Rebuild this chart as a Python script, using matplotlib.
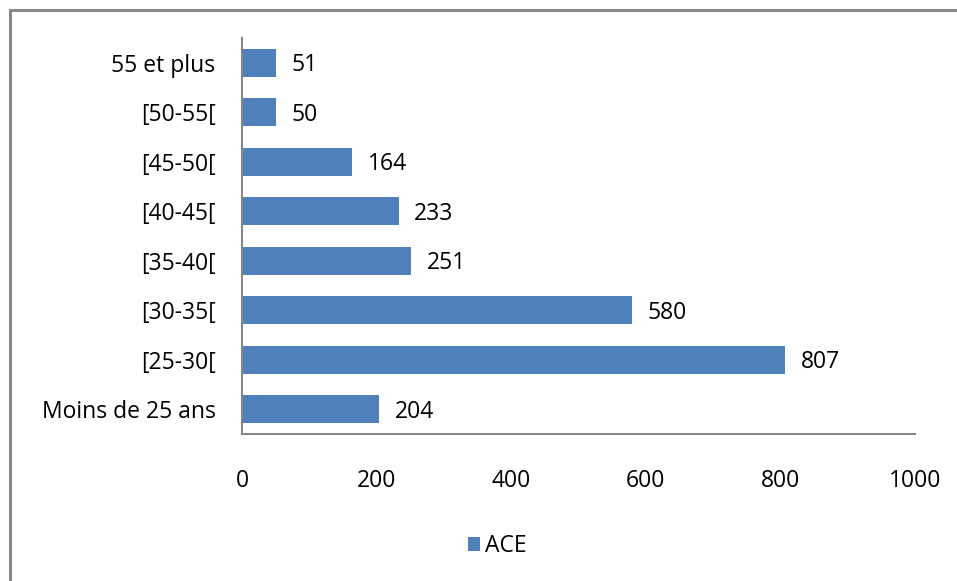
import matplotlib.pyplot as plt
from matplotlib.patches import Rectangle

categories = ["Moins de 25 ans", "[25-30[", "[30-35[", "[35-40[", "[40-45[",
              "[45-50[", "[50-55[", "55 et plus"]
values = [204, 807, 580, 251, 233, 164, 50, 51]
series_name = "ACE"
xticks = [0, 200, 400, 600, 800, 1000]

bar_color = "#4F81BD"
axis_color = "#868686"
fsize = 16.5

plt.rcParams['font.family'] = ['Open Sans', 'DejaVu Sans']

fig = plt.figure(figsize=(9.57, 5.81), dpi=100)
ax = fig.add_axes([242 / 957, 1 - 434 / 581, (915 - 242) / 957, (434 - 38) / 581])

ypos = list(range(len(categories)))
bars = ax.barh(ypos, values, height=0.56, color=bar_color, label=series_name, zorder=2)

# value labels right of each bar (nudged down a touch to sit on the bar centre)
for y, v in zip(ypos, values):
    ax.text(v + 23, y - 0.05, str(v), va="center", ha="left", fontsize=fsize, color="black")

ax.set_xlim(0, 1000)
ax.set_ylim(-0.5, len(categories) - 0.5)
ax.set_yticks(ypos)
ax.set_yticklabels(categories, fontsize=fsize)
ax.set_xticks(xticks)
ax.set_xticklabels([str(t) for t in xticks], fontsize=fsize)
ax.tick_params(axis="x", length=0, pad=25)
ax.tick_params(axis="y", length=0, pad=19)

for side in ["top", "right"]:
    ax.spines[side].set_visible(False)
for side in ["left", "bottom"]:
    ax.spines[side].set_color(axis_color)
    ax.spines[side].set_linewidth(1.5)

# legend below the plot
leg = fig.legend(handles=[bars], labels=[series_name], loc="center",
                 bbox_to_anchor=(497 / 957, 1 - 546 / 581), frameon=False,
                 fontsize=fsize, handlelength=0.55, handleheight=0.55,
                 handletextpad=0.2)

# outer chart border (top and left visible, rest runs off the image)
fig.add_artist(Rectangle((10 / 957, -0.1), 1.2, 1 - 10 / 581 + 0.1,
                         transform=fig.transFigure, fill=False,
                         edgecolor="#898989", linewidth=2.2))

fig.savefig("out.png", dpi=100)
